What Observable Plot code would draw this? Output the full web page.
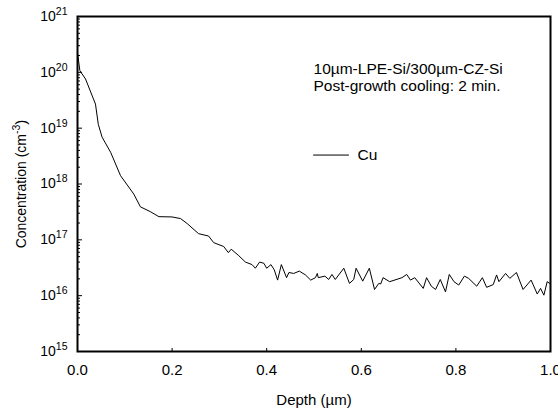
<!DOCTYPE html>
<html><head><meta charset="utf-8">
<script src="https://cdn.jsdelivr.net/npm/d3@7"></script>
<script src="https://cdn.jsdelivr.net/npm/@observablehq/plot@0.6"></script>
<style>body{margin:0;background:#fff;}</style>
</head><body><div id="chart"></div>
<script>
// Depth (µm)
const depth = [
  0.000,0.005,0.017,0.038,0.044,0.052,0.070,0.091,0.119,0.133,
  0.154,0.172,0.200,0.218,0.232,0.256,0.277,0.288,0.309,0.319,
  0.325,0.341,0.355,0.369,0.376,0.385,0.394,0.400,0.409,0.416,
  0.423,0.431,0.442,0.447,0.457,0.469,0.482,0.493,0.503,0.507,
  0.509,0.523,0.531,0.538,0.545,0.563,0.575,0.584,0.589,0.603,
  0.617,0.628,0.637,0.641,0.646,0.660,0.686,0.696,0.704,0.713,
  0.731,0.738,0.748,0.757,0.767,0.778,0.786,0.796,0.806,0.818,
  0.827,0.844,0.856,0.865,0.879,0.886,0.891,0.905,0.914,0.928,
  0.942,0.959,0.972,0.979,0.986,0.993,0.998
];
// Cu concentration (cm^-3)
const cu = [
  2.24e20,1.07e20,7.6e19,2.7e19,1.17e19,6.9e18,3.7e18,1.41e18,6.6e17,3.9e17,
  3.2e17,2.6e17,2.57e17,2.4e17,1.95e17,1.29e17,1.17e17,8.9e16,7.6e16,5.9e16,
  6.8e16,5.2e16,4.0e16,3.6e16,3.1e16,4.0e16,3.8e16,3.1e16,3.6e16,2.9e16,
  1.9e16,3.6e16,2.1e16,2.6e16,2.5e16,2.75e16,2.35e16,1.9e16,2.1e16,2.5e16,
  2.1e16,2.24e16,1.95e16,2.4e16,1.95e16,3.1e16,1.66e16,1.95e16,3.1e16,1.82e16,
  3.1e16,1.29e16,1.66e16,1.62e16,2.1e16,1.78e16,2.1e16,2.4e16,1.9e16,2.1e16,
  1.35e16,2.1e16,1.48e16,1.29e16,1.95e16,1.17e16,2.4e16,1.78e16,1.55e16,2.24e16,
  2.04e16,1.48e16,2.1e16,1.41e16,1.58e16,2.35e16,1.78e16,2.5e16,2.04e16,2.6e16,
  1.29e16,1.9e16,1.07e16,1.35e16,1.02e16,1.78e16,1.66e16
];
const xTicks = [0, 0.2, 0.4, 0.6, 0.8, 1.0];
const xInnerTicks = [0.2, 0.4, 0.6, 0.8];
const yDecades = [1e15, 1e16, 1e17, 1e18, 1e19, 1e20, 1e21];
const minorMult = [2, 3, 4, 5, 6, 7, 8, 9];
const annotText = ["10\u00b5m-LPE-Si/300\u00b5m-CZ-Si", "Post-growth cooling: 2 min."];
const annotX = [0.499, 0.499];
const annotY = [1.16e20, 5.6e19];
const legendLabel = "Cu";
const legendLineX = [0.499, 0.573];
const legendY = 3.3e18;
const legendTextX = 0.592;

const W = 558, H = 411, ML = 77, MR = 8, MT = 16, MB = 60;
const frameW = W - ML - MR, frameH = H - MT - MB;

const data = depth.map((d, i) => ({depth: d, conc: cu[i]}));
const yMinor = yDecades.slice(0, -1).flatMap(d => minorMult.map(m => d * m));
const annots = annotText.map((t, i) => ({t, x: annotX[i], y: annotY[i]}));

const svg = Plot.plot({
  width: W, height: H,
  marginLeft: ML, marginRight: MR, marginTop: MT, marginBottom: MB,
  style: {fontFamily: "'Liberation Sans', Arial, sans-serif", fontSize: "15px", color: "#000", background: "#fff"},
  x: {domain: [0, 1]},
  y: {type: "log", domain: [1e15, 1e21]},
  marks: [
    // inward ticks
    Plot.tickY(yDecades, {y: d => d, stroke: "#000", strokeWidth: 1, insetRight: frameW - 5}),
    Plot.tickY(yMinor, {y: d => d, stroke: "#000", strokeWidth: 1, insetRight: frameW - 3}),
    Plot.tickX(xInnerTicks, {x: d => d, stroke: "#000", strokeWidth: 1, insetTop: frameH - 3}),
    Plot.line(data, {x: "depth", y: "conc", stroke: "#000", strokeWidth: 1}),
    Plot.axisX(xTicks, {tickSize: 0, tickPadding: 13, tickFormat: d3.format(".1f"), label: "Depth (\u00b5m)", labelAnchor: "center", labelOffset: 53, labelArrow: false, fontSize: 15}),
    Plot.axisY(yDecades, {tickSize: 0, tickPadding: 10, tickFormat: d => "10^" + Math.round(Math.log10(d)), label: "Concentration (cm-3)", labelAnchor: "center", labelOffset: 61, labelArrow: false, fontSize: 14}),
    Plot.text(annots, {x: "x", y: "y", text: "t", textAnchor: "start", lineAnchor: "middle", fontSize: 15.5, fill: "#000"}),
    Plot.line(legendLineX.map(x => ({x, y: legendY})), {x: "x", y: "y", stroke: "#000", strokeWidth: 1}),
    Plot.text([legendLabel], {x: legendTextX, y: legendY, text: d => d, textAnchor: "start", lineAnchor: "middle", fontSize: 15.5, fill: "#000"}),
    Plot.frame({stroke: "#000", strokeWidth: 2})
  ]
});

// superscripts on y tick labels
d3.select(svg).selectAll('g[aria-label="y-axis tick label"] text').each(function() {
  const t = this.textContent;
  const parts = t.split("^");
  if (parts.length === 2) {
    const s = d3.select(this);
    s.text(parts[0]);
    s.append("tspan").attr("dy", "-6").attr("font-size", "10.5px").text(parts[1]);
  }
});
// superscript on y label
d3.select(svg).selectAll('g[aria-label="y-axis label"] text').each(function() {
  const s = d3.select(this);
  s.text("Concentration (cm");
  s.append("tspan").attr("dy", "-6").attr("font-size", "10.5px").text("-3");
  s.append("tspan").attr("dy", "6").attr("font-size", "15px").text(")");
});
document.getElementById("chart").appendChild(svg);
</script>
</body></html>
